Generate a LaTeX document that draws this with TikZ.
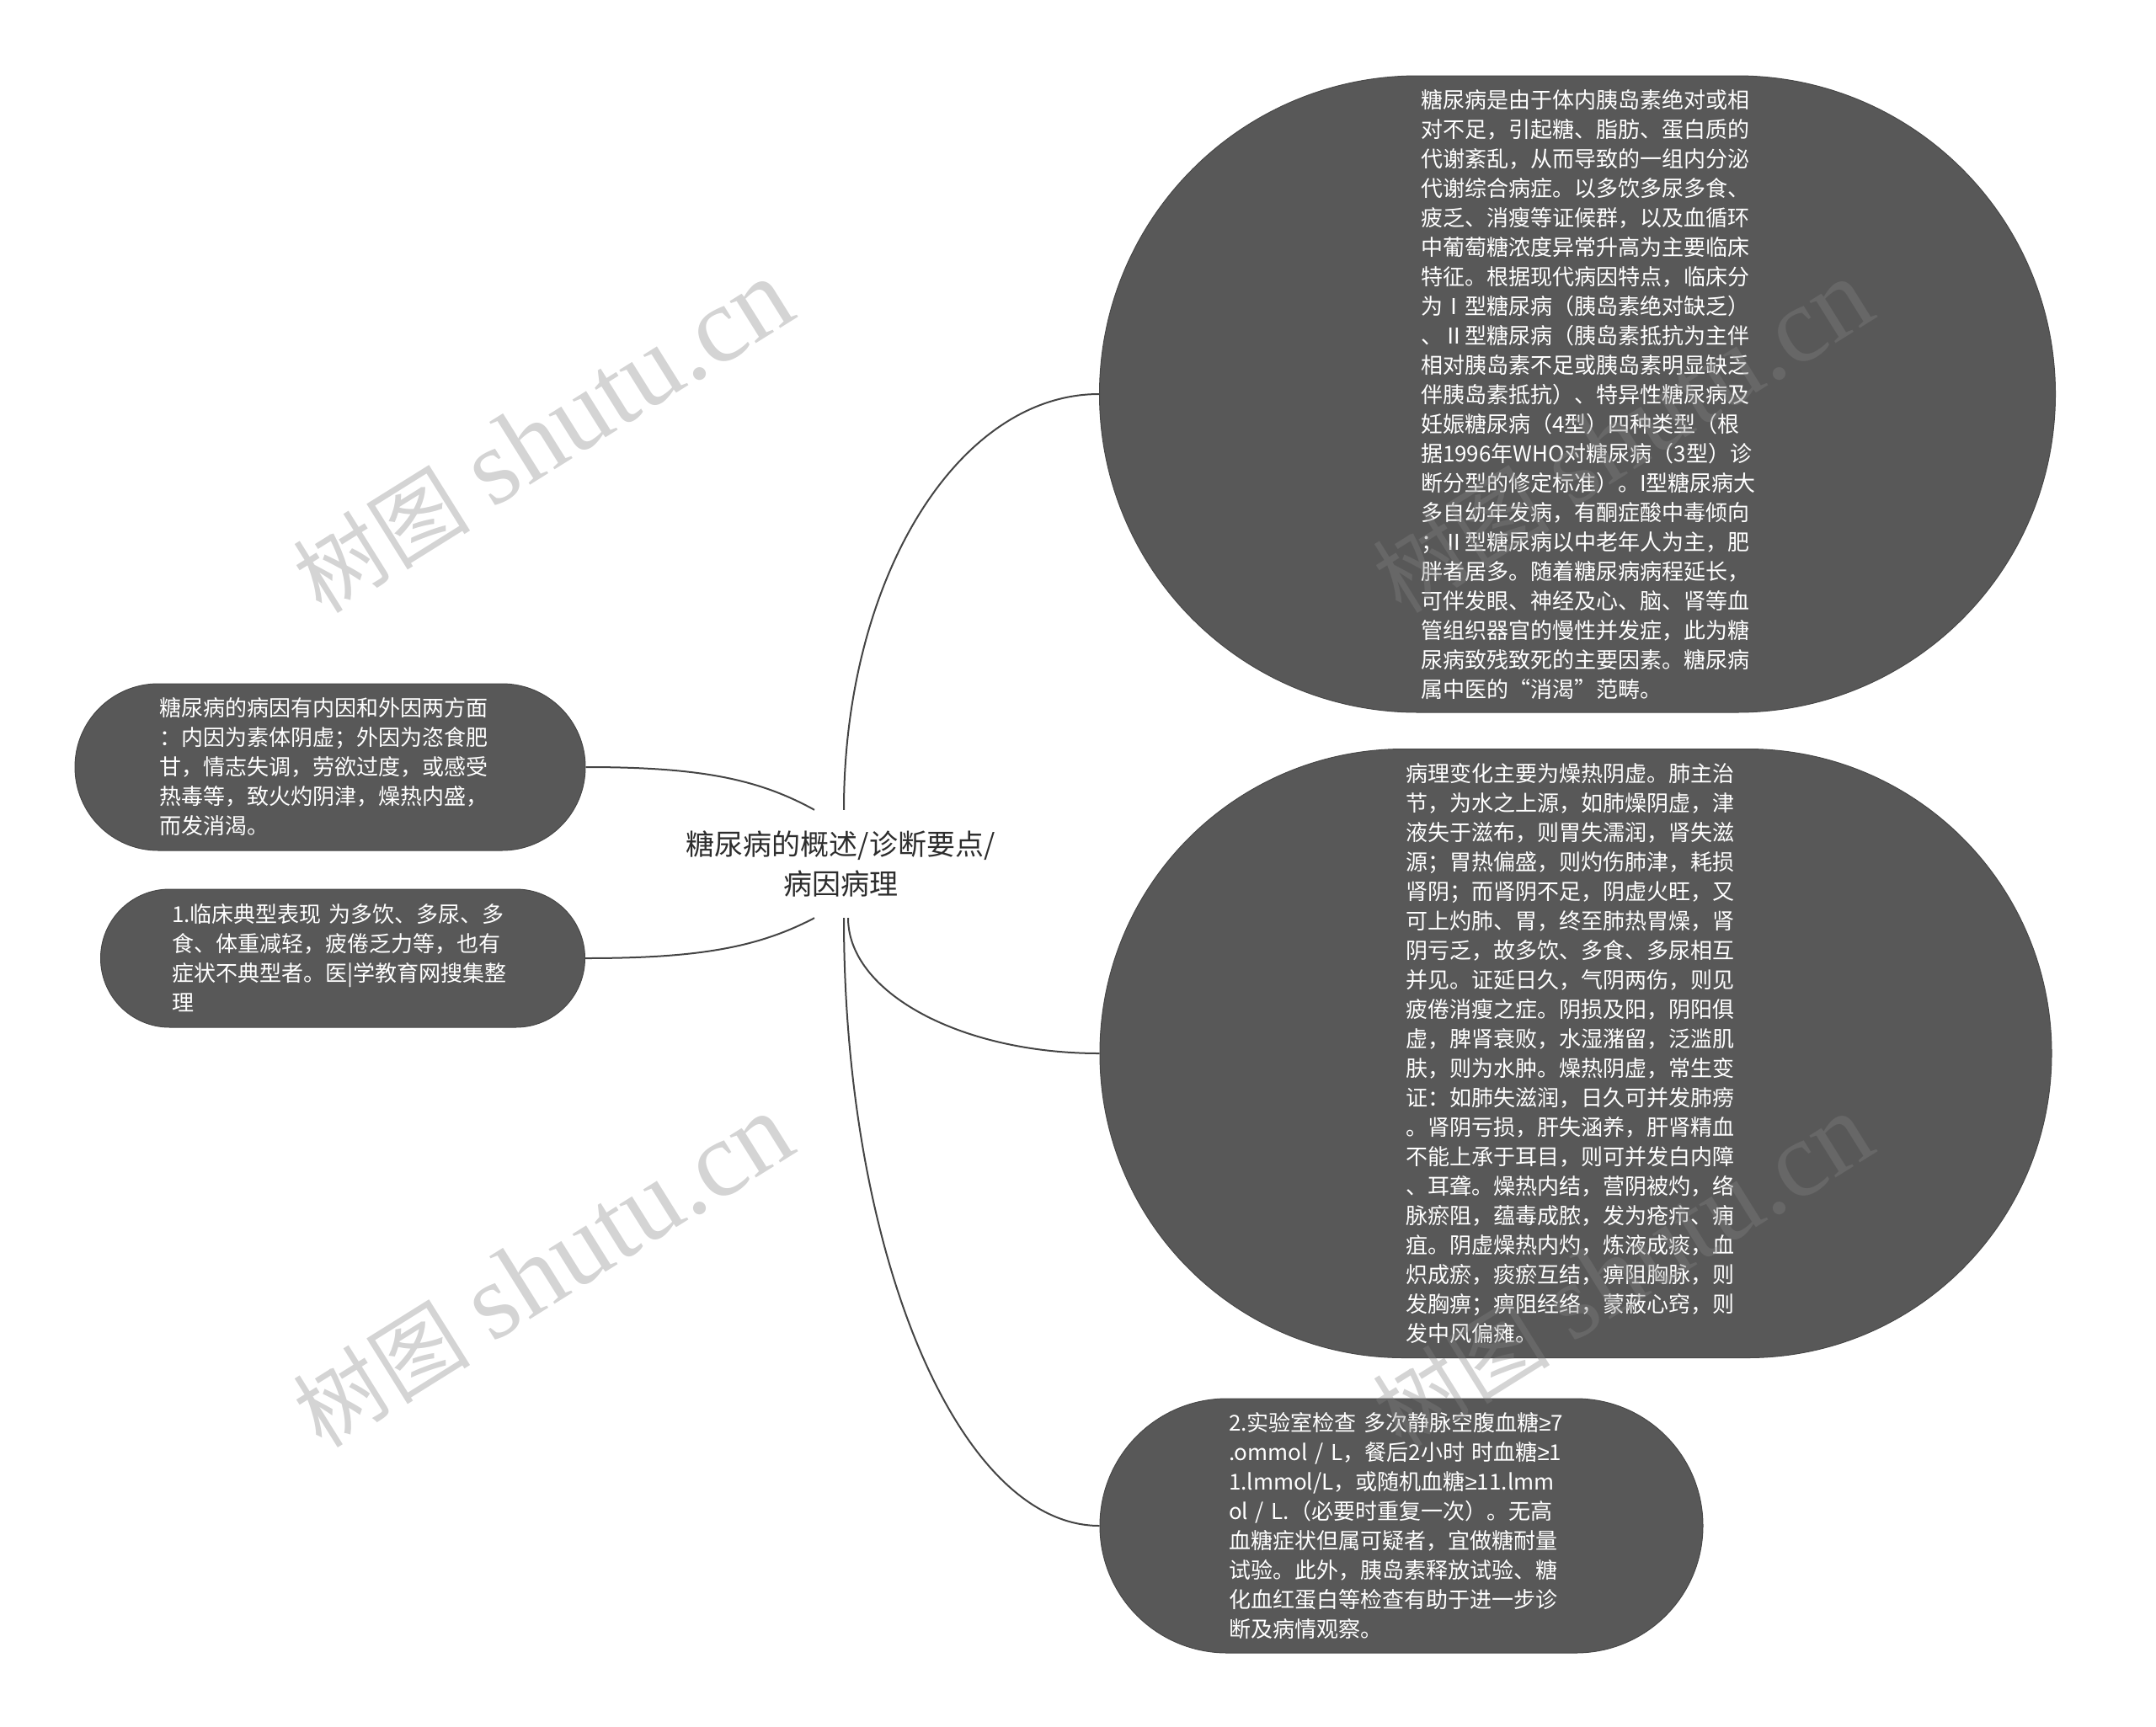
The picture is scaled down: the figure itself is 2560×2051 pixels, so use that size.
\documentclass[tikz,border=0pt]{standalone}
\usepackage{fontspec}
\setmainfont{Noto Sans CJK SC}
\newfontfamily\marcafont{Liberation Serif}
\newfontfamily\simbolo{Liberation Sans}
\usetikzlibrary{positioning}
\definecolor{cinza}{RGB}{88,88,88}
\definecolor{borda}{RGB}{72,72,72}
\definecolor{linha}{RGB}{68,68,68}
\definecolor{titulo}{RGB}{45,45,45}
\definecolor{marcacor}{RGB}{131,131,131}
\newcommand{\maiorig}{{\simbolo ≥}}
\hbadness=10000 \hfuzz=40pt

\begin{document}
\begin{tikzpicture}[x=1pt, y=-1pt,
    every node/.style={font=\fontsize{26}{35}\selectfont},
    caixa/.style={fill=cinza, draw=borda, line width=1pt, text=white, align=left, inner sep=0pt},
    liga/.style={draw=linha, line width=2pt},
    marca/.style={text=marcacor, opacity=0.35, rotate=32, inner sep=0pt}]

    \useasboundingbox (0,0) rectangle (2560,2051);

    % Nó central
    \node[text=titulo, align=center, inner sep=0pt, minimum height=128pt,
        font=\fontsize{34}{47}\selectfont] (raiz) at (998,1026)
        {糖尿病的概述/诊断要点/\\病因病理};

    % Ramos da direita
    \node[caixa, text width=372pt, minimum width=1135pt, minimum height=756pt,
        rounded corners=378pt] (conceito) at (1873,468)
        {糖尿病是由于体内胰岛素绝对或相\\
         对不足，引起糖、脂肪、蛋白质的\\
         代谢紊乱，从而导致的一组内分泌\\
         代谢综合病症。以多饮多尿多食、\\
         疲乏、消瘦等证候群，以及血循环\\
         中葡萄糖浓度异常升高为主要临床\\
         特征。根据现代病因特点，临床分\\
         为Ⅰ型糖尿病（胰岛素绝对缺乏）\\
         、Ⅱ型糖尿病（胰岛素抵抗为主伴\\
         相对胰岛素不足或胰岛素明显缺乏\\
         伴胰岛素抵抗）、特异性糖尿病及\\
         妊娠糖尿病（4型）四种类型（根\\
         据1996年WHO对糖尿病（3型）诊\\
         断分型的修定标准）。I型糖尿病大\\
         多自幼年发病，有酮症酸中毒倾向\\
         ；Ⅱ型糖尿病以中老年人为主，肥\\
         胖者居多。随着糖尿病病程延长，\\
         可伴发眼、神经及心、脑、肾等血\\
         管组织器官的慢性并发症，此为糖\\
         尿病致残致死的主要因素。糖尿病\\
         属中医的“消渴”范畴。};

    \node[caixa, text width=404pt, minimum width=1130pt, minimum height=723pt,
        rounded corners=361pt] (patologia) at (1871,1251)
        {病理变化主要为燥热阴虚。肺主治\\
         节，为水之上源，如肺燥阴虚，津\\
         液失于滋布，则胃失濡润，肾失滋\\
         源；胃热偏盛，则灼伤肺津，耗损\\
         肾阴；而肾阴不足，阴虚火旺，又\\
         可上灼肺、胃，终至肺热胃燥，肾\\
         阴亏乏，故多饮、多食、多尿相互\\
         并见。证延日久，气阴两伤，则见\\
         疲倦消瘦之症。阴损及阳，阴阳俱\\
         虚，脾肾衰败，水湿潴留，泛滥肌\\
         肤，则为水肿。燥热阴虚，常生变\\
         证：如肺失滋润，日久可并发肺痨\\
         。肾阴亏损，肝失涵养，肝肾精血\\
         不能上承于耳目，则可并发白内障\\
         、耳聋。燥热内结，营阴被灼，络\\
         脉瘀阻，蕴毒成脓，发为疮疖、痈\\
         疽。阴虚燥热内灼，炼液成痰，血\\
         炽成瘀，痰瘀互结，痹阻胸脉，则\\
         发胸痹；痹阻经络，蒙蔽心窍，则\\
         发中风偏瘫。};

    \node[caixa, text width=410pt, minimum width=716pt, minimum height=302pt,
        rounded corners=151pt] (exame) at (1664,1812)
        {2.实验室检查~多次静脉空腹血糖\maiorig7\\
         .ommol~/~L，餐后2小时~时血糖\maiorig1\\
         1.lmmol/L，或随机血糖\maiorig11.lmm\\
         ol~/~L.（必要时重复一次）。无高\\
         血糖症状但属可疑者，宜做糖耐量\\
         试验。此外，胰岛素释放试验、糖\\
         化血红蛋白等检查有助于进一步诊\\
         断及病情观察。};

    % Ramos da esquerda
    \node[caixa, text width=406pt, minimum width=606pt, minimum height=198pt,
        rounded corners=99pt] (causa) at (392,911)
        {糖尿病的病因有内因和外因两方面\\
         ：内因为素体阴虚；外因为恣食肥\\
         甘，情志失调，劳欲过度，或感受\\
         热毒等，致火灼阴津，燥热内盛，\\
         而发消渴。};

    \node[caixa, text width=406pt, minimum width=575pt, minimum height=164pt,
        rounded corners=82pt] (clinica) at (407,1138)
        {1.临床典型表现~为多饮、多尿、多\\
         食、体重减轻，疲倦乏力等，也有\\
         症状不典型者。医|学教育网搜集整\\
         理};

    % Ligações
    \draw[liga] ([xshift=4pt]raiz.north) .. controls +(0,-274) and +(-168,0) .. (conceito.west);
    \draw[liga] ([xshift=9pt]raiz.south) .. controls +(0,88) and +(-166,0) .. (patologia.west);
    \draw[liga] ([xshift=4pt]raiz.south) .. controls +(0,397) and +(-168,0) .. (exame.west);
    \draw[liga] (causa.east) .. controls +(135,0) and +(-67,-37) .. ([xshift=-31pt]raiz.north);
    \draw[liga] (clinica.east) .. controls +(135,0) and +(-67,35) .. ([xshift=-31pt]raiz.south);

    % Marca d'água
    \foreach \px/\py [count=\i] in {645/519, 645/1510, 1927/519, 1927/1510}
        \node[marca] (m\i) at (\px,\py)
            {{\fontsize{105}{105}\selectfont 树图}\hspace{28pt}{\marcafont\fontsize{128}{128}\selectfont shutu.cn}};
\end{tikzpicture}
\end{document}
